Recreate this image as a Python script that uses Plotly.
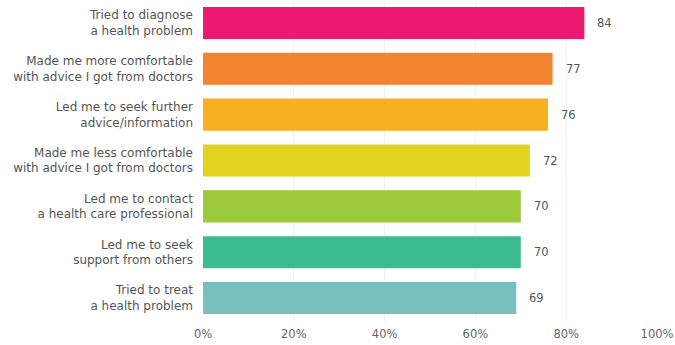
import plotly.graph_objects as go

categories = [
    "Tried to diagnose<br>a health problem",
    "Made me more comfortable<br>with advice I got from doctors",
    "Led me to seek further<br>advice/information",
    "Made me less comfortable<br>with advice I got from doctors",
    "Led me to contact<br>a health care professional",
    "Led me to seek<br>support from others",
    "Tried to treat<br>a health problem",
]
values = [84, 77, 76, 72, 70, 70, 69]
colors = ["#EC1A6E", "#F28330", "#F9B020", "#E2D41E", "#9DC93C", "#3DBB90", "#78C0BF"]
x_ticks = [0, 20, 40, 60, 80, 100]
x_tick_labels = ["0%", "20%", "40%", "60%", "80%", "100%"]

font_family = "DejaVu Sans, Open Sans, sans-serif"

fig = go.Figure(
    go.Bar(
        y=categories,
        x=values,
        orientation="h",
        marker=dict(color=colors, line=dict(width=0)),
        width=0.7,
        hoverinfo="skip",
    )
)

# value labels just past the end of each bar
for cat, val in zip(categories, values):
    fig.add_annotation(
        x=val, y=cat, text=str(val), showarrow=False,
        xanchor="left", xshift=11,
        font=dict(family=font_family, size=11.5, color="#555555"),
    )

fig.update_layout(
    width=675, height=345,
    margin=dict(l=203, r=18, t=0, b=24),
    paper_bgcolor="white", plot_bgcolor="white",
    showlegend=False,
    bargap=0.3,
)
fig.update_xaxes(
    range=[0, 100], tickvals=x_ticks, ticktext=x_tick_labels,
    showgrid=True, gridcolor="#f1f1f1", gridwidth=1,
    zeroline=False, showline=False,
    tickfont=dict(family=font_family, size=11.5, color="#666666"),
    ticks="", ticklabelstandoff=4,
)
fig.update_yaxes(
    categoryorder="array", categoryarray=categories[::-1],
    autorange=True,
    showgrid=False, zeroline=False, showline=False,
    tickfont=dict(family=font_family, size=12, color="#555555"),
    ticks="", ticklabelstandoff=9,
)

fig.write_html("out.html")
